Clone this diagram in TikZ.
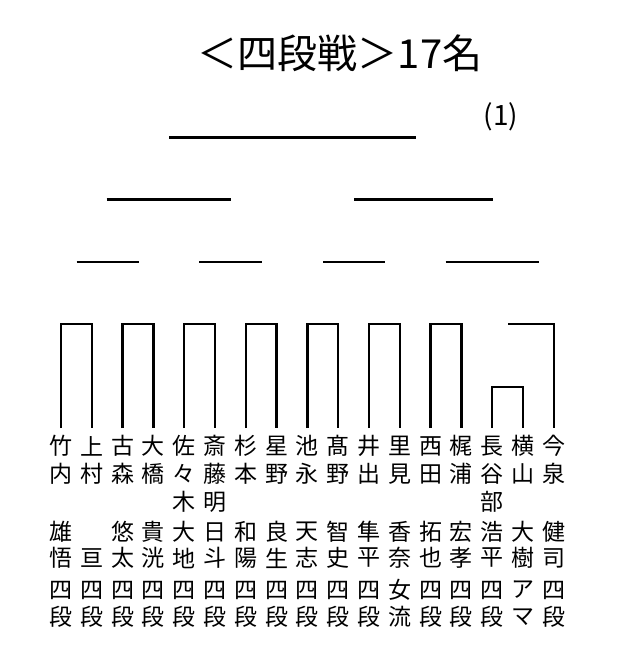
\documentclass[tikz,border=0pt]{standalone}
\usepackage{fontspec}
\newfontfamily\jp{Noto Sans CJK JP}
\begin{document}
\begin{tikzpicture}[x=1pt,y=-1pt,
  namech/.style={font=\jp\fontsize{23}{23}\selectfont, inner sep=0pt, anchor=center},
  bracket/.style={line width=2.5pt, line join=miter},
  rline/.style={line width=2.8pt}]
\useasboundingbox (0,0) rectangle (627,664);
\node[font=\jp\fontsize{40}{40}\selectfont, inner sep=0pt] (title) at (340,53) {＜四段戦＞17名};
\node[font=\jp\fontsize{28}{28}\selectfont, inner sep=0pt] (num) at (501,117) {(1)};
\coordinate (top) at (0,324);
\coordinate (top2) at (0,387);
\foreach \i/\a/\b/\c/\d/\e/\f/\g in {
  0/竹/内/{}/雄/悟/四/段,
  1/上/村/{}/{}/亘/四/段,
  2/古/森/{}/悠/太/四/段,
  3/大/橋/{}/貴/洸/四/段,
  4/佐/々/木/大/地/四/段,
  5/斎/藤/明/日/斗/四/段,
  6/杉/本/{}/和/陽/四/段,
  7/星/野/{}/良/生/四/段,
  8/池/永/{}/天/志/四/段,
  9/髙/野/{}/智/史/四/段,
  10/井/出/{}/隼/平/四/段,
  11/里/見/{}/香/奈/女/流,
  12/西/田/{}/拓/也/四/段,
  13/梶/浦/{}/宏/孝/四/段,
  14/長/谷/部/浩/平/四/段,
  15/横/山/{}/大/樹/ア/マ,
  16/今/泉/{}/健/司/四/段}{
  \pgfmathsetmacro\xx{61+30.8*\i}
  \coordinate (c\i) at (\xx,428);
  \node[namech] (n\i a) at (\xx,446) {\a};
  \node[namech] (n\i b) at (\xx,474) {\b};
  \node[namech] (n\i c) at (\xx,502) {\c};
  \node[namech] (n\i d) at (\xx,532) {\d};
  \node[namech] (n\i e) at (\xx,558) {\e};
  \node[namech] (n\i f) at (\xx,590) {\f};
  \node[namech] (n\i g) at (\xx,617) {\g};
}
% first-round brackets
\foreach \l/\r in {0/1,2/3,4/5,6/7,8/9,10/11,12/13}
  \draw[bracket] (c\l) -- (c\l |- top) -- (c\r |- top) -- (c\r);
\draw[bracket] (c14) -- (c14 |- top2) -- (c15 |- top2) -- (c15);
\coordinate (e16) at (508,324);
\draw[bracket] (e16) -- (c16 |- top) -- (c16);
% round lines
\coordinate (a1) at (76.7,262); \coordinate (a2) at (139,262);
\coordinate (b1) at (199.3,262); \coordinate (b2) at (261.7,262);
\coordinate (d1) at (323.3,262); \coordinate (d2) at (385,262);
\coordinate (f1) at (445.7,262); \coordinate (f2) at (539,262);
\coordinate (g1) at (106.7,199.5); \coordinate (g2) at (230.7,199.5);
\coordinate (h1) at (354,199.5); \coordinate (h2) at (492.7,199.5);
\coordinate (k1) at (169,137.3); \coordinate (k2) at (416,137.3);
\draw[rline] (a1) -- (a2);
\draw[rline] (b1) -- (b2);
\draw[rline] (d1) -- (d2);
\draw[rline] (f1) -- (f2);
\draw[rline] (g1) -- (g2);
\draw[rline] (h1) -- (h2);
\draw[rline] (k1) -- (k2);
\end{tikzpicture}
\end{document}
